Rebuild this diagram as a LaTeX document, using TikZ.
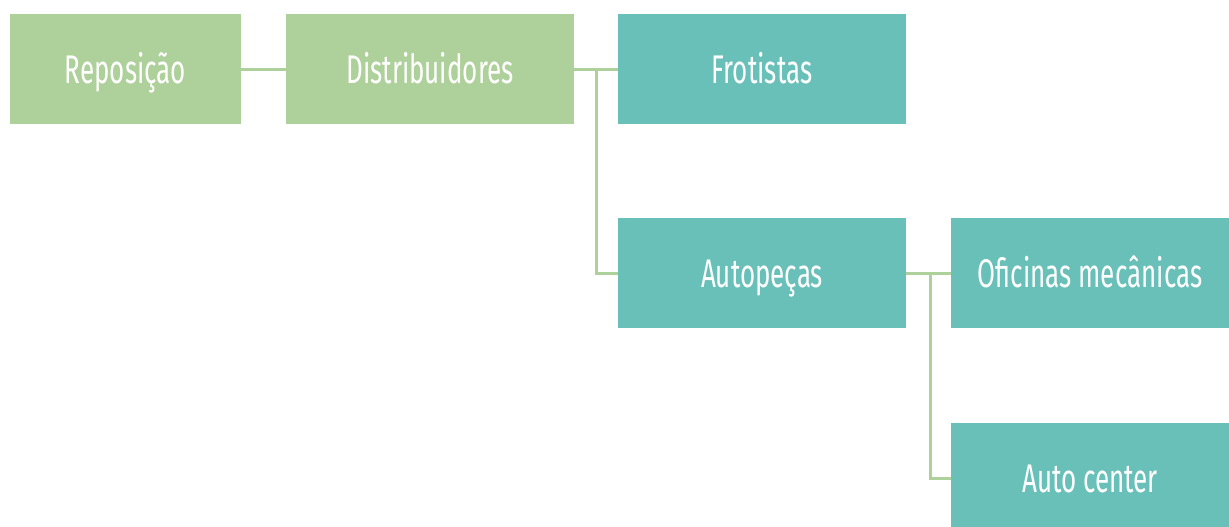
\documentclass[tikz,border=0pt]{standalone}
\usepackage{fontspec}
\setmainfont[FakeStretch=0.65]{Fira Sans}
\usetikzlibrary{calc}
\definecolor{CanalVerde}{HTML}{AED09A}
\definecolor{CanalTeal}{HTML}{69C0B9}

\begin{document}
\begin{tikzpicture}[x=0.5pt,y=-0.5pt,font=\fontsize{20}{24}\selectfont,
 canal/.style={text=white,minimum height=55pt,inner sep=0pt,text height=14.5pt,text depth=0pt},
 verde/.style={canal,fill=CanalVerde},
 teal/.style={canal,fill=CanalTeal},
 ligacao/.style={draw=CanalVerde,line width=1.5pt}]
\useasboundingbox (0,0) rectangle (1229,526);
\node[verde,minimum width=115.5pt] (repo) at (125.5,69) {Reposição};
\node[verde,minimum width=144pt] (dist) at (430,69) {Distribuidores};
\node[teal,minimum width=144pt] (frot) at (762,69) {Frotistas};
\node[teal,minimum width=144pt] (autop) at (762,273) {Autopeças};
\node[teal,minimum width=139pt] (ofic) at (1090,273) {Oficinas mecânicas};
\node[teal,minimum width=139pt] (centro) at (1090,478) {Auto center};
\coordinate (j1) at ($(dist.east)!0.5!(frot.west)$);
\coordinate (j2) at ($(autop.east)!0.55!(ofic.west)$);
\draw[ligacao] (repo) -- (dist);
\draw[ligacao] (dist) -- (frot);
\draw[ligacao] (j1) |- (autop);
\draw[ligacao] (autop) -- (ofic);
\draw[ligacao] (j2) |- (centro);
\end{tikzpicture}
\end{document}
